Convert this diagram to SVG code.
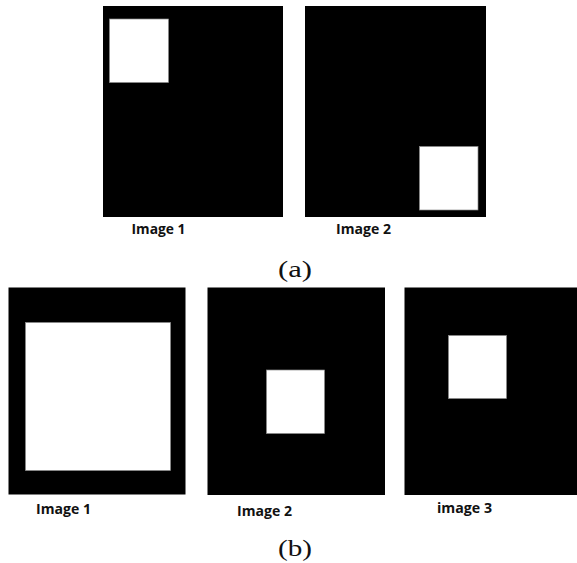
<svg xmlns="http://www.w3.org/2000/svg" width="577" height="563" viewBox="0 0 577 563">
<style>
.bg{fill:#000}
.sq{fill:#fff;stroke:#8a8a8a;stroke-width:0.7}
.lbl{font-family:"Open Sans","Liberation Sans",sans-serif;font-weight:bold;font-size:13.5px;fill:#111}
.cap{font-family:"Liberation Serif",serif;font-size:23px;fill:#111}
</style>
<rect width="577" height="563" fill="#fff"/>
<g id="a-image1">
<rect class="bg" x="103" y="6" width="180" height="211"/>
<rect class="sq" x="109.5" y="19" width="59" height="63.5"/>
<text class="lbl" x="131.5" y="234" textLength="54" lengthAdjust="spacingAndGlyphs">Image 1</text>
</g>
<g id="a-image2">
<rect class="bg" x="305" y="6" width="181" height="211"/>
<rect class="sq" x="419.5" y="146.5" width="58.5" height="63.5"/>
<text class="lbl" x="336" y="234" textLength="55" lengthAdjust="spacingAndGlyphs">Image 2</text>
</g>
<text id="cap-a" class="cap" x="278" y="276.5" textLength="34" lengthAdjust="spacingAndGlyphs">(a)</text>
<g id="b-image1">
<rect class="bg" x="8.5" y="287.5" width="177" height="207"/>
<rect class="sq" x="25.5" y="322.5" width="145" height="148"/>
<text class="lbl" x="36" y="513.5" textLength="55" lengthAdjust="spacingAndGlyphs">Image 1</text>
</g>
<g id="b-image2">
<rect class="bg" x="207.5" y="287.5" width="177.5" height="207.5"/>
<rect class="sq" x="266.5" y="370" width="58" height="63.5"/>
<text class="lbl" x="237" y="515.5" textLength="55" lengthAdjust="spacingAndGlyphs">Image 2</text>
</g>
<g id="b-image3">
<rect class="bg" x="404.5" y="287.5" width="172.5" height="207.5"/>
<rect class="sq" x="448.5" y="335.5" width="58" height="63"/>
<text class="lbl" x="437" y="512.5" textLength="55" lengthAdjust="spacingAndGlyphs">image 3</text>
</g>
<text id="cap-b" class="cap" x="278" y="556" textLength="34" lengthAdjust="spacingAndGlyphs">(b)</text>
</svg>
